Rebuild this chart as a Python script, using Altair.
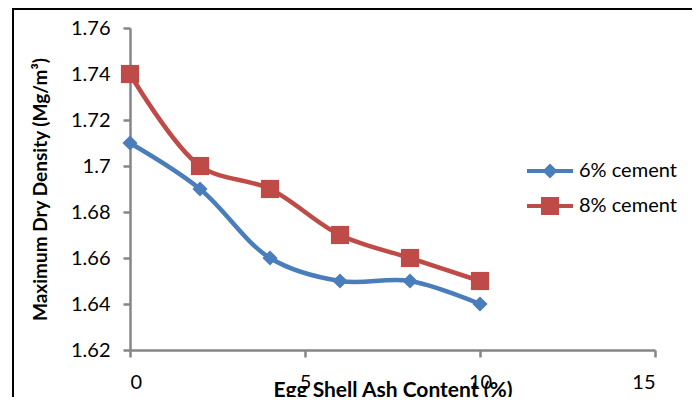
import altair as alt
import pandas as pd

ash = [0, 2, 4, 6, 8, 10]
cement6 = [1.71, 1.69, 1.66, 1.65, 1.65, 1.64]
cement8 = [1.74, 1.70, 1.69, 1.67, 1.66, 1.65]
series = ["6% cement", "8% cement"]
x_ticks = [0, 5, 10, 15]
y_ticks = [1.62, 1.64, 1.66, 1.68, 1.70, 1.72, 1.74, 1.76]
colors = ["#4A7EBB", "#BE4B48"]

df = pd.DataFrame({
    "ash": ash + ash,
    "mdd": cement6 + cement8,
    "series": [series[0]] * len(ash) + [series[1]] * len(ash),
})

FONT = "Lato"

# legend symbols: line segment + marker
diamond_path = ("M-2.3,-0.2 L2.3,-0.2 L2.3,0.2 L-2.3,0.2 Z "
                "M0,-0.75 L0.75,0 L0,0.75 L-0.75,0 Z")
square_path = ("M-2.3,-0.2 L2.3,-0.2 L2.3,0.2 L-2.3,0.2 Z "
               "M-0.9,-0.9 L0.9,-0.9 L0.9,0.9 L-0.9,0.9 Z")

leg = alt.Legend(title=None, orient="none", legendX=410, legendY=133,
                 symbolSize=400, labelOffset=19, rowPadding=15,
                 labelFont=FONT, labelFontSize=20, labelColor="black",
                 symbolStrokeWidth=0)

x = alt.X("ash:Q", scale=alt.Scale(domain=[0, 15], nice=False),
          axis=alt.Axis(values=x_ticks, title="Egg Shell Ash Content (%)",
                        labelPadding=15, titleY=46, titleBaseline="alphabetic",
                        titleFontSize=21))
y = alt.Y("mdd:Q", scale=alt.Scale(domain=[1.62, 1.76], nice=False, zero=False),
          axis=alt.Axis(values=y_ticks, format="~g",
                        title="Maximum Dry Density (Mg/m³)",
                        labelPadding=13, titleX=-90, titleY=161,
                        titleAlign="center", titleBaseline="middle",
                        titleFontSize=19))
color = alt.Color("series:N", scale=alt.Scale(domain=series, range=colors), legend=leg)

base = alt.Chart(df)

lines = base.mark_line(interpolate="catmull-rom", strokeWidth=4.5).encode(x=x, y=y, color=color)

pts6 = base.mark_point(filled=True, opacity=1, shape="diamond", size=230).encode(
    x=x, y=y, color=color).transform_filter(alt.datum.series == series[0])
pts8 = base.mark_point(filled=True, opacity=1, shape="square", size=330).encode(
    x=x, y=y, color=color).transform_filter(alt.datum.series == series[1])

legend_layer = base.mark_point(filled=True, opacity=1).encode(
    x=x, y=y, color=color,
    shape=alt.Shape("series:N", scale=alt.Scale(domain=series, range=[diamond_path, square_path]),
                    legend=leg)
).transform_filter("false")

frame = alt.Chart(pd.DataFrame({"f": [0]})).mark_rect(
    filled=False, stroke="black", strokeWidth=2
).encode(x=alt.value(-117), x2=alt.value(567), y=alt.value(-19), y2=alt.value(400))

chart = alt.layer(frame, lines, pts6, pts8, legend_layer).properties(
    width=525, height=322,
    autosize=alt.AutoSizeParams(type="none"),
    padding={"left": 122, "top": 20, "right": 37, "bottom": 47},
).configure_view(strokeWidth=0).configure_axis(
    grid=False,
    domainColor="#868686", domainWidth=2.5,
    tickColor="#868686", tickWidth=2.5, tickSize=7,
    labelFont=FONT, labelFontSize=20, labelColor="black",
    titleFont=FONT, titleFontWeight="bold", titleColor="black",
)

chart.save("out.html", embed_options={"renderer": "svg", "actions": False})
